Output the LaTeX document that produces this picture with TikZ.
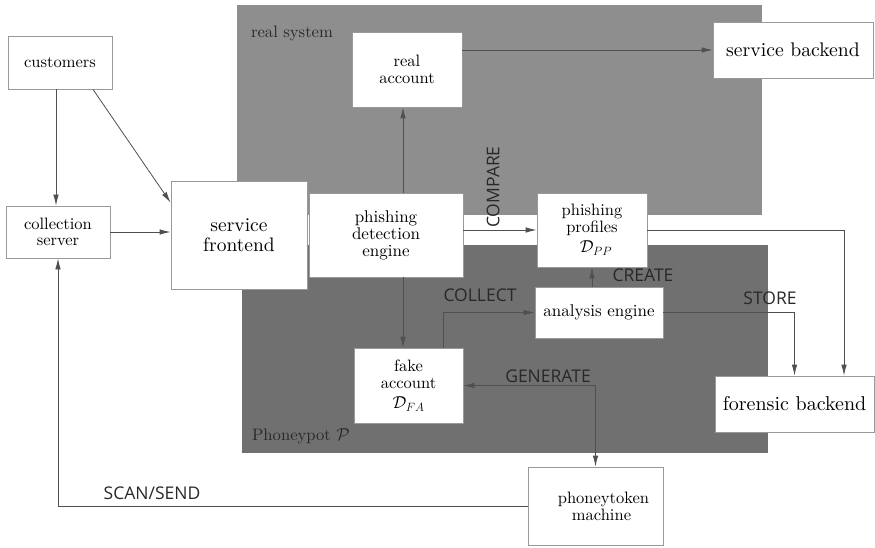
\documentclass[tikz,border=0pt]{standalone}
\usepackage{fontspec}
\setmainfont{lmroman10-regular}[Extension=.otf, ItalicFont=lmroman10-italic, BoldFont=lmroman10-bold]
\newfontfamily\labfont{Open Sans}
\usetikzlibrary{arrows.meta}
\definecolor{realgray}{RGB}{142,142,142}
\definecolor{potgray}{RGB}{112,112,112}
\definecolor{linecol}{RGB}{80,80,80}
\definecolor{labcol}{RGB}{40,40,40}
\tikzset{
  box/.style={draw=gray!80, line width=0.8pt, fill=white, inner sep=0pt, align=center},
  small/.style={font=\fontsize{16.5}{17}\selectfont},
  large/.style={font=\fontsize{19.7}{20}\selectfont},
  region/.style={inner sep=0pt, draw=none},
  conn/.style={draw=linecol, line width=0.8pt},
  arr/.style={conn, -{Latex[length=11pt,width=5.5pt]}},
  arrboth/.style={conn, {Latex[length=11pt,width=5.5pt]}-{Latex[length=11pt,width=5.5pt]}},
  lab/.style={text=labcol, font=\labfont\fontsize{17.5}{18}\selectfont, inner sep=0pt},
  reglab/.style={text=labcol, font=\fontsize{16.6}{18}\selectfont, inner sep=0pt}
}
\begin{document}
\begin{tikzpicture}[x=1pt,y=-1pt]
\useasboundingbox (0,0) rectangle (875,548);
% regions
\node[region, fill=realgray, minimum width=525pt, minimum height=210pt] (realsys) at (499.5,110) {};
\node[region, fill=potgray, minimum width=526pt, minimum height=208pt] (pot) at (505,349) {};
\node[reglab] (realsyslab) at (292,33) {real system};
\node[reglab] (potlab) at (301,436) {Phoneypot $\mathcal{P}$};
% boxes
\node[box, small, minimum width=104pt, minimum height=53pt] (cust) at (60,62.5) {customers};
\node[box, font=\fontsize{16.5}{16.5}\selectfont, minimum width=104pt, minimum height=52pt] (coll) at (58,232) {collection\\server};
\node[box, font=\fontsize{19.5}{20}\selectfont, minimum width=136pt, minimum height=108pt] (front) at (239,235) {service\\frontend};
\node[box, font=\fontsize{17}{17}\selectfont, minimum width=154pt, minimum height=84pt] (det) at (386,235) {phishing\\detection\\engine};
\node[box, small, minimum width=110pt, minimum height=75pt] (real) at (407,69.5) {real\\account};
\node[box, large, minimum width=160pt, minimum height=56pt] (sback) at (793,50) {service backend};
\node[box, small, minimum width=110pt, minimum height=74pt] (prof) at (592,230) {phishing\\profiles\\[3pt]\hspace*{8pt}$\mathcal{D}_{PP}$};
\node[box, font=\fontsize{17}{17}\selectfont, minimum width=128pt, minimum height=51pt] (ana) at (599,312.5) {analysis engine};
\node[box, small, minimum width=109pt, minimum height=75pt] (fake) at (408.5,385.5) {fake\\account\\[3pt]$\mathcal{D}_{FA}$};
\node[box, font=\fontsize{20}{20}\selectfont, minimum width=159pt, minimum height=56pt] (foren) at (794.5,404) {forensic backend};
\node[box, small, minimum width=135pt, minimum height=78pt] (pt) at (595.5,506) {\hspace*{16pt}phoneytoken\\\hspace*{12pt}machine};
% helper coordinates
\coordinate (x403) at (403,0);
\coordinate (x443) at (443,0);
\coordinate (x844) at (844,0);
% connectors
\draw[arr] ([xshift=-4pt]cust.south) -- ([xshift=-4pt]cust.south |- coll.north);
\draw[arr] ([xshift=33pt]cust.south) -- ([yshift=-22pt]front.north west);
\draw[arr] (coll.east) -- (coll.east -| front.west);
\draw[arr] (pt.west) -| (coll.south);
\draw[arr] (det.north -| x403) -- (real.south -| x403);
\draw[arr] (det.south -| x403) -- (fake.north -| x403);
\draw[arr] (real.east |- sback.west) -- (sback.west);
\draw[arr] (det.east |- prof.west) -- (prof.west);
\draw[arr] (prof.east) -| (foren.north -| x844);
\draw[arr] (ana.east) -| (foren.north);
\draw[arr] (ana.north -| prof.south) -- (prof.south);
\draw[arr] (fake.north -| x443) |- (ana.west);
\draw[arrboth] (fake.east) -| (pt.north);
% labels
\node[lab, rotate=90] (compare) at (493,187) {COMPARE};
\node[lab] (collect) at (480,295) {COLLECT};
\node[lab] (create) at (643,275) {CREATE};
\node[lab] (store) at (770,298) {STORE};
\node[lab] (generate) at (548,376) {GENERATE};
\node[lab] (scansend) at (152,493) {SCAN/SEND};
\end{tikzpicture}
\end{document}
